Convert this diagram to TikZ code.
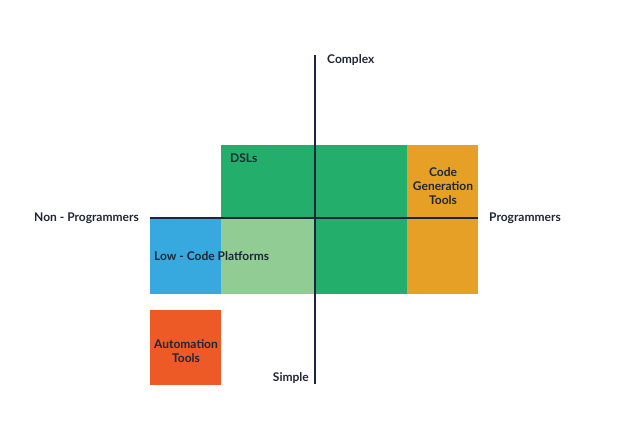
\documentclass[tikz,border=0pt]{standalone}
\usepackage{fontspec}
\setmainfont{Lato}
\usepackage{tikz}
\usetikzlibrary{positioning, calc}
\definecolor{navy}{HTML}{1B2440}
\definecolor{txt}{HTML}{1E2636}
\definecolor{dslgreen}{HTML}{24AE6B}
\definecolor{lcgreen}{HTML}{92CC95}
\definecolor{lcblue}{HTML}{38A9DF}
\definecolor{cgorange}{HTML}{E6A026}
\definecolor{atred}{HTML}{EE5A25}
\tikzset{
  zone/.style={draw=none},
  axisline/.style={draw=navy, line width=1.8pt},
  axlabel/.style={text=txt, font=\bfseries\fontsize{12}{14}\selectfont, inner sep=0pt},
  zonelabel/.style={text=txt, font=\bfseries\fontsize{12}{14}\selectfont, align=center, inner sep=0pt},
}
\begin{document}
\begin{tikzpicture}[x=1pt, y=-1pt]
  \useasboundingbox (0,0) rectangle (630,435);
  % zones
  \fill[zone, dslgreen] (221,145) rectangle (407,294);
  \fill[zone, lcgreen] (221,218) rectangle (315,294);
  \fill[zone, lcblue] (150,218) rectangle (221,294);
  \fill[zone, cgorange] (407,145) rectangle (478,294);
  \fill[zone, atred] (150,310) rectangle (221,385);
  % axes
  \coordinate (left) at (150,218);
  \coordinate (right) at (478,218);
  \coordinate (top) at (315,55);
  \coordinate (bottom) at (315,384);
  \draw[axisline] (left) -- (right);
  \draw[axisline] (top) -- (bottom);
  \node[axlabel, anchor=west] (cx) at (327,60) {Complex};
  \node[axlabel, anchor=east] (sp) at (309,378) {Simple};
  \node[axlabel, anchor=east] (np) at (139,218) {Non - Programmers};
  \node[axlabel, anchor=west] (pr) at (489,218) {Programmers};
  % zone labels
  \node[zonelabel, anchor=west] (dsl) at (230,158) {DSLs};
  \node[zonelabel, anchor=west] (lcp) at (154,256) {Low - Code Platforms};
  \node[zonelabel] (cgt) at (443,186) {Code\\Generation\\Tools};
  \node[zonelabel] (aut) at (186,351) {Automation\\Tools};
\end{tikzpicture}
\end{document}
